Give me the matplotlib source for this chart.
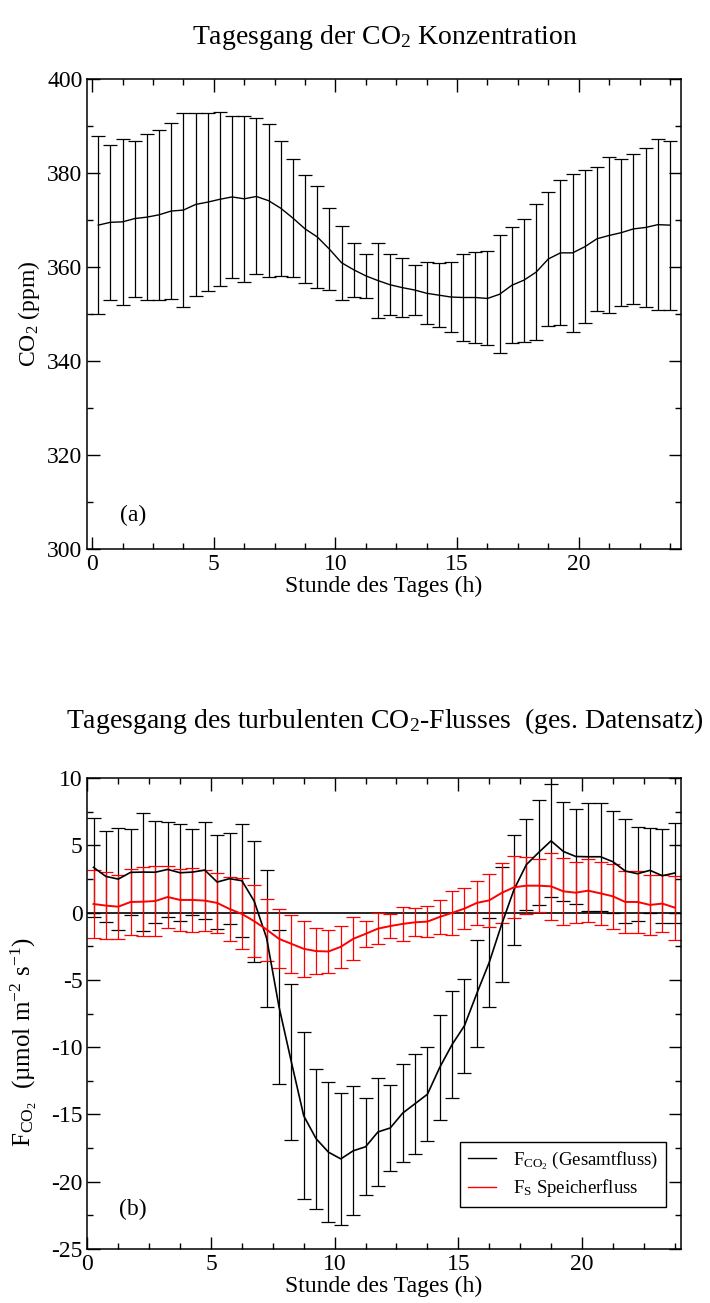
import numpy as np
import matplotlib
matplotlib.use('Agg')
import matplotlib.pyplot as plt
from matplotlib.ticker import MultipleLocator
from matplotlib.lines import Line2D

plt.rcParams['font.family'] = ['Liberation Serif', 'DejaVu Serif']
plt.rcParams['mathtext.default'] = 'regular'
plt.rcParams['axes.unicode_minus'] = False

# half-hourly bins
hours = np.arange(0.25, 24.0, 0.5)

# CO2 concentration, mean and standard deviation (ppm)
co2_mean = [368.9, 369.5, 369.6, 370.3, 370.6, 371.1, 371.9, 372.1, 373.3, 373.8,
            374.4, 374.9, 374.5, 375.0, 374.1, 372.5, 370.4, 368.1, 366.4, 363.8,
            360.9, 359.4, 358.1, 357.1, 356.2, 355.6, 355.1, 354.4, 354.0, 353.6,
            353.5, 353.5, 353.3, 354.2, 356.1, 357.2, 358.9, 361.7, 363.0, 363.0,
            364.3, 366.0, 366.7, 367.3, 368.1, 368.4, 369.0, 368.9]
co2_std = [19.0, 16.5, 17.7, 16.6, 17.6, 18.1, 18.7, 20.6, 19.5, 19.0,
           18.5, 17.3, 17.7, 16.6, 16.3, 14.4, 12.5, 11.5, 10.8, 8.8,
           7.9, 5.7, 4.6, 7.9, 6.5, 6.2, 5.3, 6.6, 6.8, 7.5,
           9.3, 9.6, 10.0, 12.5, 12.3, 13.1, 14.5, 14.3, 15.4, 16.8,
           16.3, 15.3, 16.6, 15.6, 16.0, 16.9, 18.2, 18.0]

# total CO2 flux (umol m-2 s-1)
flux_mean = [3.36, 2.69, 2.49, 2.99, 3.01, 3.00, 3.21, 2.96, 3.01, 3.16,
             2.27, 2.52, 2.37, 0.84, -1.9, -7.0, -11.1, -15.1, -16.8, -17.8,
             -18.3, -17.7, -17.4, -16.3, -16.0, -14.9, -14.2, -13.5, -11.5, -9.8,
             -8.4, -6.0, -3.7, -0.89, 1.70, 3.56, 4.47, 5.33, 4.54, 4.17,
             4.15, 4.15, 3.78, 3.09, 2.89, 3.14, 2.74, 2.94]
flux_std = [3.7, 3.4, 3.77, 3.2, 4.4, 3.8, 3.55, 3.6, 3.2, 3.6,
            3.5, 3.4, 4.2, 4.5, 5.1, 5.7, 5.8, 6.2, 5.2, 5.2,
            4.9, 4.8, 3.6, 4.0, 3.2, 3.65, 3.7, 3.5, 3.9, 4.0,
            3.5, 4.0, 3.3, 4.3, 4.1, 3.4, 3.9, 4.2, 3.7, 3.5,
            4.0, 4.0, 3.8, 3.85, 3.5, 3.15, 3.5, 3.7]

# storage flux
stor_mean = [0.64, 0.52, 0.44, 0.79, 0.81, 0.86, 1.16, 0.94, 0.94, 0.89,
             0.72, 0.27, -0.10, -0.64, -1.26, -1.95, -2.32, -2.69, -2.86, -2.89,
             -2.54, -1.95, -1.58, -1.19, -1.00, -0.84, -0.72, -0.67, -0.32, -0.02,
             0.30, 0.72, 0.91, 1.46, 1.88, 2.00, 2.00, 1.95, 1.58, 1.48,
             1.63, 1.43, 1.21, 0.79, 0.79, 0.57, 0.67, 0.37]
stor_std = [2.55, 2.5, 2.37, 2.42, 2.55, 2.6, 2.3, 2.3, 2.36, 2.26,
            2.23, 2.4, 2.64, 2.67, 2.3, 2.2, 2.16, 2.1, 1.72, 1.58,
            1.56, 1.6, 0.95, 1.16, 0.9, 1.26, 1.05, 1.16, 1.27, 1.65,
            1.5, 1.65, 1.95, 2.2, 2.3, 2.1, 1.95, 2.5, 2.5, 2.25,
            2.35, 2.35, 2.43, 2.3, 2.27, 2.2, 2.1, 2.37]

fs_tick = 17
fs_label = 17
fs_title = 20
cap = 5


def style_axes(ax):
    ax.tick_params(which='both', direction='in', top=True, right=True,
                   labelsize=fs_tick, width=1.0)
    ax.tick_params(which='major', length=9)
    ax.tick_params(which='minor', length=4.5)
    for s in ax.spines.values():
        s.set_linewidth(1.1)
    ax.xaxis.set_major_locator(MultipleLocator(5))
    ax.xaxis.set_minor_locator(MultipleLocator(1.25))


fig = plt.figure(figsize=(7.1, 13.03), dpi=100)

# (a) CO2 concentration
ax1 = fig.add_axes([0.123, 0.5787, 0.836, 0.3607])
ax1.errorbar(hours, co2_mean, yerr=co2_std, color='black', lw=1.0,
             elinewidth=0.9, capsize=cap, capthick=0.9)
ax1.set_xlim(-0.2, 24.2)
ax1.set_ylim(300, 400)
ax1.yaxis.set_major_locator(MultipleLocator(20))
ax1.yaxis.set_minor_locator(MultipleLocator(10))
style_axes(ax1)
ax1.set_xlabel('Stunde des Tages (h)', fontsize=fs_label, labelpad=1)
ax1.set_ylabel('CO$_2$ (ppm)', fontsize=fs_label)
ax1.text(1.15, 306, '(a)', fontsize=fs_label)
fig.text(0.542, 0.971, 'Tagesgang der CO$_2$ Konzentration',
         ha='center', va='center', fontsize=fs_title)

# (b) CO2 fluxes
ax2 = fig.add_axes([0.123, 0.0414, 0.836, 0.3615])
ax2.axhline(0, color='black', lw=1.2, zorder=1.5)
ax2.errorbar(hours, flux_mean, yerr=flux_std, color='black', lw=1.2,
             elinewidth=0.9, capsize=cap, capthick=0.9)
ax2.errorbar(hours, stor_mean, yerr=stor_std, color='red', lw=1.4,
             elinewidth=0.9, capsize=cap, capthick=0.9)
ax2.set_xlim(0, 24)
ax2.set_ylim(-25, 10)
ax2.yaxis.set_major_locator(MultipleLocator(5))
ax2.yaxis.set_minor_locator(MultipleLocator(2.5))
style_axes(ax2)
ax2.set_xlabel('Stunde des Tages (h)', fontsize=fs_label, labelpad=1)
ax2.set_ylabel('F$_{CO_2}$  (µmol m$^{-2}$ s$^{-1}$)', fontsize=18)
ax2.yaxis.set_label_coords(-0.082, 0.44)
ax2.text(1.3, -22.5, '(b)', fontsize=fs_label)

handles = [Line2D([], [], color='black', lw=1.0),
           Line2D([], [], color='red', lw=1.0)]
labels = ['F$_{CO_2}$ (Gesamtfluss)', 'F$_S$ Speicherfluss']
leg = ax2.legend(handles, labels, loc='lower right',
                 bbox_to_anchor=(0.99, 0.07),
                 fontsize=13.5, frameon=True, fancybox=False, framealpha=1,
                 edgecolor='black', handlelength=1.5, handletextpad=0.9,
                 borderpad=0.4, labelspacing=0.3)
leg.get_frame().set_linewidth(1.0)
fig.text(0.542, 0.447, 'Tagesgang des turbulenten CO$_2$-Flusses  (ges. Datensatz)',
         ha='center', va='center', fontsize=fs_title)

fig.savefig('out.png', dpi=100)
